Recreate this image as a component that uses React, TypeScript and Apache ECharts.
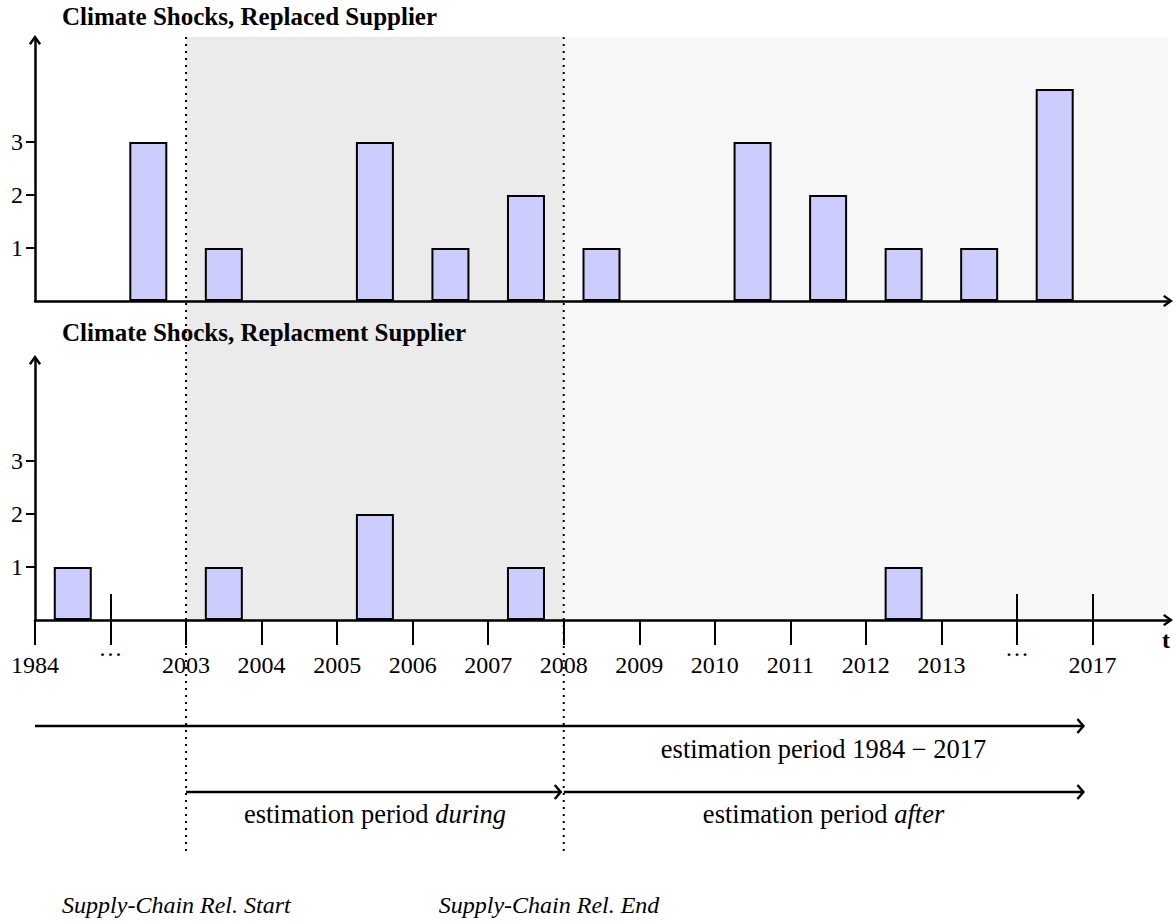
import React, { useEffect, useRef } from "react";
import * as echarts from "echarts";

// ---- data ----
const xTickLabels = ["1984", "⋯", "2003", "2004", "2005", "2006", "2007", "2008", "2009", "2010", "2011", "2012", "2013", "⋯", "2017"];
const tallTickIdx = [1, 13, 14];
const replacedShocks = [0, 3, 1, 0, 3, 1, 2, 1, 0, 3, 2, 1, 1, 4, 0];
const replacementShocks = [1, 0, 1, 0, 2, 0, 1, 0, 0, 0, 0, 1, 0, 0, 0];
const yTicks = [1, 2, 3];
const relStart = 2;
const relEnd = 7;
const estEnd = 13.88;
const periods = [
  { from: relStart, to: relEnd, color: "#ebebeb" },
  { from: relEnd, to: 15, color: "#f7f7f7" },
];

const NBINS = 15;
const FONT = "'Liberation Serif', 'Times New Roman', serif";
const FS = 24;
const FS_NOTE = 26.5;

export default function App() {
  const ref = useRef<HTMLDivElement>(null);
  useEffect(() => {
    const chart = echarts.init(ref.current!, null, { renderer: "svg" });
    const arrowUp = "path://M5,0 L10,7 L8.4,8.2 L5,3.4 L1.6,8.2 L0,7 Z";
    const axisLineStyle = { color: "#000", width: 2.5 };
    const common = { left: 35, right: 8 };
    const tickIdx = xTickLabels.map((_, i) => i);
    const toBars = (arr: number[]) =>
      arr.map((v, i) => [i + 0.5, v]).filter((d) => d[1] > 0);

    const hiddenX = (g: number) => ({ gridIndex: g, type: "value", min: 0, max: NBINS, show: false });
    const hiddenY = (g: number) => ({ gridIndex: g, type: "value", min: 0, max: 1, show: false });

    const yAxisFor = (g: number, h: number) => ({
      gridIndex: g,
      type: "value",
      min: 0,
      max: h / 53,
      z: 6,
      axisLine: { show: true, onZero: false, symbol: ["none", arrowUp], symbolSize: [13, 10], lineStyle: axisLineStyle },
      axisTick: { show: true, customValues: yTicks, length: 9, lineStyle: { color: "#000", width: 2 } },
      axisLabel: { show: true, customValues: yTicks, margin: 12, color: "#000", fontFamily: FONT, fontSize: FS },
      splitLine: { show: false },
    });

    const option: any = {
      animation: false,
      textStyle: { fontFamily: FONT },
      grid: [
        { ...common, top: 40, height: 261 },
        { ...common, top: 360, height: 260 },
        { ...common, top: 37, height: 583 },
        { ...common, top: 37, height: 818 },
      ],
      xAxis: [
        {
          gridIndex: 0, type: "value", min: 0, max: NBINS, z: 6,
          axisLine: { show: true, onZero: false, symbol: ["none", arrowUp], symbolSize: [13, 10], lineStyle: axisLineStyle },
          axisTick: { show: false }, axisLabel: { show: false }, splitLine: { show: false },
        },
        {
          gridIndex: 1, type: "value", position: "bottom", min: 0, max: NBINS, z: 6,
          axisLine: { show: true, onZero: false, symbol: ["none", arrowUp], symbolSize: [13, 10], lineStyle: axisLineStyle },
          axisTick: { show: true, customValues: tickIdx, length: 25, lineStyle: { color: "#000", width: 2 } },
          axisLabel: {
            show: true, customValues: tickIdx, margin: 29, color: "#000", fontFamily: FONT, fontSize: FS,
            formatter: (v: number) => {
              const s = xTickLabels[Math.round(v)] ?? "";
              return s === "⋯" ? "{d|···}" : `{n|${s}}`;
            },
            rich: {
              d: { fontFamily: FONT, fontSize: FS, color: "#000", lineHeight: 10 },
              n: { fontFamily: FONT, fontSize: FS, color: "#000", lineHeight: 32 },
            },
          },
          splitLine: { show: false },
        },
        {
          gridIndex: 1, type: "value", position: "bottom", offset: 0, min: 0, max: NBINS, z: 6,
          axisLine: { show: false, onZero: false },
          axisTick: { show: true, inside: true, customValues: tallTickIdx, length: 26, lineStyle: { color: "#000", width: 2 } },
          axisLabel: { show: false }, splitLine: { show: false },
        },
        hiddenX(2),
        hiddenX(3),
      ],
      yAxis: [yAxisFor(0, 261), yAxisFor(1, 260), hiddenY(2), hiddenY(3)],
      series: [
        {
          type: "custom", xAxisIndex: 3, yAxisIndex: 2, z: 1, silent: true,
          data: periods.map((p) => [p.from, p.to]),
          renderItem: (params: any, api: any) => {
            const p0 = api.coord([api.value(0), 1]);
            const p1 = api.coord([api.value(1), 0]);
            return {
              type: "rect",
              shape: { x: p0[0], y: p0[1], width: p1[0] - p0[0], height: p1[1] - p0[1] },
              style: { fill: periods[params.dataIndex].color },
            };
          },
        },
        {
          type: "custom", xAxisIndex: 4, yAxisIndex: 3, z: 2, silent: true,
          data: [[relStart], [relEnd]],
          renderItem: (params: any, api: any) => {
            const p0 = api.coord([api.value(0), 1]);
            const p1 = api.coord([api.value(0), 0]);
            return {
              type: "line",
              shape: { x1: p0[0], y1: p0[1], x2: p1[0], y2: p1[1] },
              style: { stroke: "#000", lineWidth: 2, lineDash: [2, 5] },
            };
          },
        },
        {
          type: "bar", xAxisIndex: 0, yAxisIndex: 0, z: 3, barWidth: 38,
          data: toBars(replacedShocks),
          itemStyle: { color: "#ccccff", borderColor: "#000", borderWidth: 2 },
        },
        {
          type: "bar", xAxisIndex: 1, yAxisIndex: 1, z: 3, barWidth: 38,
          data: toBars(replacementShocks),
          itemStyle: { color: "#ccccff", borderColor: "#000", borderWidth: 2 },
        },
      ],
    };
    chart.setOption(option);

    const px = (v: number) => chart.convertToPixel({ xAxisIndex: 1 }, v) as number;
    const arrowLine = (x0: number, x1: number, y: number) => [
      { type: "line", shape: { x1: x0, y1: y, x2: x1 - 1, y2: y }, style: { stroke: "#000", lineWidth: 2.5 }, z: 10 },
      { type: "polyline", shape: { points: [[x1 - 6, y - 7], [x1, y], [x1 - 6, y + 7]] }, style: { stroke: "#000", lineWidth: 2.5, fill: "none" }, z: 10 },
    ];
    const txt = (text: string, x: number, y: number, extra: any = {}) => ({
      type: "text", x, y, z: 10,
      style: { text, fill: "#000", fontFamily: FONT, fontSize: FS, ...extra },
    });
    const italicRich = { i: { fontStyle: "italic", fontFamily: FONT, fontSize: FS_NOTE } };
    const rowA = 726;
    const rowB = 792;
    chart.setOption({
      graphic: [
        txt("Climate Shocks, Replaced Supplier", 62, 16, { fontWeight: "bold", fontSize: 25, verticalAlign: "middle" }),
        txt("Climate Shocks, Replacment Supplier", 62, 332, { fontWeight: "bold", fontSize: 25, verticalAlign: "middle" }),
        txt("t", 1162, 640, { fontWeight: "bold", verticalAlign: "middle" }),
        ...arrowLine(px(0), px(estEnd), rowA),
        ...arrowLine(px(relStart), px(relEnd) - 3, rowB),
        ...arrowLine(px(relEnd), px(estEnd), rowB),
        txt("estimation period 1984 − 2017", (px(relEnd) + px(estEnd)) / 2, 749, {
          fontSize: FS_NOTE, align: "center", verticalAlign: "middle",
        }),
        txt("estimation period {i|during}", (px(relStart) + px(relEnd)) / 2, 814, {
          fontSize: FS_NOTE, align: "center", verticalAlign: "middle", rich: italicRich,
        }),
        txt("estimation period {i|after}", (px(relEnd) + px(estEnd)) / 2, 814, {
          fontSize: FS_NOTE, align: "center", verticalAlign: "middle", rich: italicRich,
        }),
        txt("Supply-Chain Rel. Start", px(relStart) - 124, 905, { fontStyle: "italic", verticalAlign: "middle" }),
        txt("Supply-Chain Rel. End", px(relEnd) - 125, 905, { fontStyle: "italic", verticalAlign: "middle" }),
      ],
    });
    return () => chart.dispose();
  }, []);
  return (
    <div
      ref={ref}
      style={{ position: "fixed", left: 0, top: 0, width: 1176, height: 921, background: "#fff" }}
    />
  );
}
